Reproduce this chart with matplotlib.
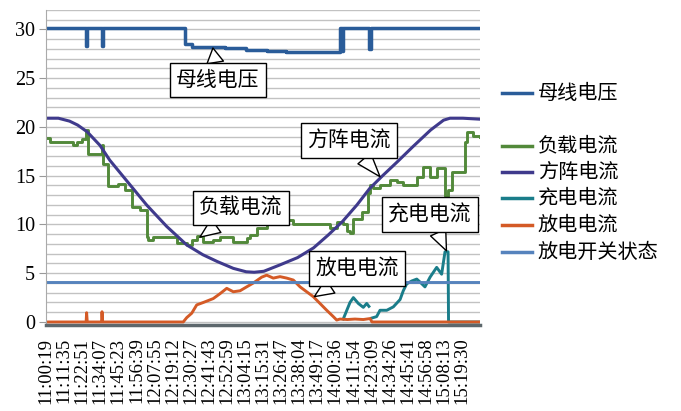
import numpy as np
import matplotlib.pyplot as plt
from matplotlib.lines import Line2D

# fonts: serif digits, CJK for the labels
plt.rcParams['font.family'] = ['Liberation Serif', 'Noto Sans CJK SC']
CJK = ['Noto Sans CJK SC', 'DejaVu Sans']

# x axis: sample times (labels every ~11 min)
tick_labels = ['11:00:19', '11:11:35', '11:22:51', '11:34:07', '11:45:23', '11:56:39',
               '12:07:55', '12:19:12', '12:30:27', '12:41:43', '12:52:59', '13:04:15',
               '13:15:31', '13:26:47', '13:38:04', '13:49:17', '14:00:36', '14:11:54',
               '14:23:09', '14:34:26', '14:45:41', '14:56:58', '15:08:13', '15:19:30']


def to_min(s):
    h, m, sec = (int(p) for p in s.split(':'))
    return h * 60 + m + sec / 60 - 660


tick_pos = [to_min(s) for s in tick_labels]
t_start, t_end = 0.3, 270.7

# series, time in minutes after 11:00
bus_t = [0.3, 25.4, 25.9, 35.1, 35.6, 87.2, 91.5, 112, 125, 138, 150,
         183.3, 184.8, 185.5, 201.6, 202.6, 270.7]
bus_v = [30.2, 28.3, 30.2, 28.3, 30.2, 28.5, 28.2, 28.1, 27.9, 27.8, 27.7,
         30.2, 27.8, 30.2, 28.0, 30.2, 30.2]

load_t = [0.3, 2.8, 17.1, 19.6, 22.7, 25.5, 26.2, 35.2, 35.8, 38.9, 45.2, 49.5,
          53.9, 58.9, 63.2, 63.8, 67.0, 81.9, 88.1, 91.3, 94.4, 98.1, 104.4, 108.7,
          116.8, 125.5, 127.4, 131.8, 138.0, 150.5, 154.2, 162.9, 177.3, 181.6,
          185.3, 187.8, 189.7, 191.6, 197.2, 201.0, 202.2, 204.1, 208.4, 214.7,
          219.0, 222.7, 231.5, 235.2, 239.6, 243.9, 248.9, 250.5, 253.3, 261.4,
          262.6, 266.4, 270.7]
load_v = [18.9, 18.5, 18.2, 18.5, 18.8, 19.7, 17.2, 18.2, 16.2, 13.9, 14.2, 13.5,
          11.8, 11.5, 8.75, 8.4, 8.75, 8.1, 7.9, 8.4, 8.8, 8.25, 8.4, 8.75,
          8.25, 8.6, 8.9, 9.6, 10.1, 10.5, 10.1, 10.0, 9.6, 10.3,
          10.0, 9.3, 9.1, 10.6, 11.3, 13.2, 14.0, 13.7, 14.0, 14.6,
          14.4, 14.05, 14.9, 15.9, 14.9, 15.8, 12.9, 13.5, 15.4, 18.5,
          19.5, 19.1, 19.0]

array_t = [0.3, 8, 15, 20, 26, 34, 40, 45, 51, 63, 75.5, 88, 98, 107, 117, 125,
           130, 136, 146, 157, 167, 176, 185, 194, 202, 210, 219, 229, 240, 248,
           252, 260, 270.7]
array_v = [20.9, 20.9, 20.6, 20.2, 19.5, 18.1, 16.6, 15.6, 14.4, 12.0, 9.8, 7.9,
           6.9, 6.2, 5.5, 5.15, 5.1, 5.2, 5.85, 6.6, 7.6, 8.9, 10.3, 12.0, 13.7,
           15.0, 16.4, 18.0, 19.7, 20.7, 20.9, 20.9, 20.8]

charge_t = [185.5, 189.7, 191.8, 194.9, 198.0, 200.1, 201.5, 202.3,
            203.2, 206.3, 208.4, 212.6, 216.7, 220.9, 222.9, 225.0, 228.1, 231.3,
            233.3, 236.4, 239.6, 243.7, 246.8, 248.9, 250.8, 251.1, 270.7]
charge_v = [0.3, 2.0, 2.5, 1.9, 1.5, 1.9, 1.6, np.nan,
            0.4, 0.55, 1.2, 1.2, 1.55, 2.3, 3.2, 3.9, 4.2, 4.4,
            4.1, 3.6, 4.6, 5.6, 4.9, 7.2, 7.2, 0, 0]

disch_t = [0.3, 25.3, 25.6, 26.0, 34.9, 35.2, 35.6, 85.8, 88.0, 91.1, 94.2, 98.3,
           104.5, 108.7, 112.9, 117.0, 121.2, 125.3, 129.5, 134.7, 137.8, 141.9,
           146.1, 150.3, 154.4, 158.6, 162.7, 166.8, 171.0, 175.2, 179.3, 181.4,
           183.5, 188, 192.8, 198, 202.2, 203.4, 270.7]
disch_v = [0, 0, 0.95, 0, 0, 1.05, 0, 0, 0.45, 0.9, 1.75, 2.0,
           2.4, 2.9, 3.45, 3.1, 3.2, 3.6, 4.0, 4.6, 4.8, 4.5,
           4.65, 4.5, 4.3, 3.6, 3.1, 2.6, 1.9, 1.2, 0.55, 0.2,
           0.3, 0.25, 0.3, 0.25, 0.35, 0, 0]

switch_t = [t_start, t_end]
switch_v = [4.15, 4.15]

colors = {'母线电压': '#2a5c99', '负载电流': '#52893a', '方阵电流': '#3f3a8c',
          '充电电流': '#1a7d8a', '放电电流': '#d45a26', '放电开关状态': '#5683bd'}

fig = plt.figure(figsize=(6.81, 4.11), dpi=100)
ax = fig.add_axes([46 / 681, 86 / 411, 434 / 681, 315 / 411])

ax.plot(bus_t, bus_v, drawstyle='steps-post', color=colors['母线电压'], lw=2.5)
ax.plot(load_t, load_v, drawstyle='steps-post', color=colors['负载电流'], lw=2.1)
ax.plot(array_t, array_v, color=colors['方阵电流'], lw=2.2)
ax.plot(charge_t, charge_v, color=colors['充电电流'], lw=2.1)
ax.plot(disch_t, disch_v, color=colors['放电电流'], lw=2.1)
ax.plot(switch_t, switch_v, color=colors['放电开关状态'], lw=2.1)

ax.set_xlim(t_start, t_end)
ax.set_ylim(-0.31, 32)
ax.set_yticks(range(0, 31, 5))
ax.set_yticks(range(0, 33), minor=True)
ax.grid(True, axis='y', which='both', color='#c2c2c2', lw=1.0)
ax.set_axisbelow(True)
ax.tick_params(axis='y', which='major', length=5, color='#999999', labelsize=14.5, pad=3)
ax.tick_params(axis='y', which='minor', length=0)
ax.set_xticks(tick_pos)
ax.set_xticklabels(tick_labels, rotation=90, fontsize=13.5)
ax.tick_params(axis='x', length=0, pad=9)

for side in ['top', 'right']:
    ax.spines[side].set_visible(False)
ax.spines['left'].set_color('#aaaaaa')
ax.spines['bottom'].set_color('#5d676c')
ax.spines['bottom'].set_linewidth(2.5)

# callouts
callouts = [('母线电压', (104.3, 28.1), (107.5, 24.8)),
            ('方阵电流', (208.4, 14.9), (189.1, 18.6)),
            ('负载电流', (96.2, 8.7), (121.8, 11.7)),
            ('充电电流', (249.8, 7.3), (239.6, 11.0)),
            ('放电电流', (167.5, 2.6), (194.1, 5.5))]
for label, xy, xytext in callouts:
    ax.annotate(label, xy=xy, xytext=xytext, ha='center', va='center',
                fontsize=15, family=CJK, zorder=10,
                bbox=dict(boxstyle='square,pad=0.3', fc='white', ec='black', lw=1),
                arrowprops=dict(arrowstyle='wedge,tail_width=0.8', fc='white',
                                ec='black', lw=1, shrinkA=0, shrinkB=0))

# legend on the right (empty row after the first entry)
legend_rows = [('母线电压', 93), ('负载电流', 146), ('方阵电流', 172),
               ('充电电流', 198), ('放电电流', 225), ('放电开关状态', 252)]
for label, ypx in legend_rows:
    yf = 1 - ypx / 411
    fig.add_artist(Line2D([502 / 681, 532 / 681], [yf, yf], transform=fig.transFigure,
                          color=colors[label], lw=2.5))
    fig.text(538 / 681, yf, label, fontsize=14.5, family=CJK, va='center', ha='left')

fig.savefig('out.png', dpi=100)
